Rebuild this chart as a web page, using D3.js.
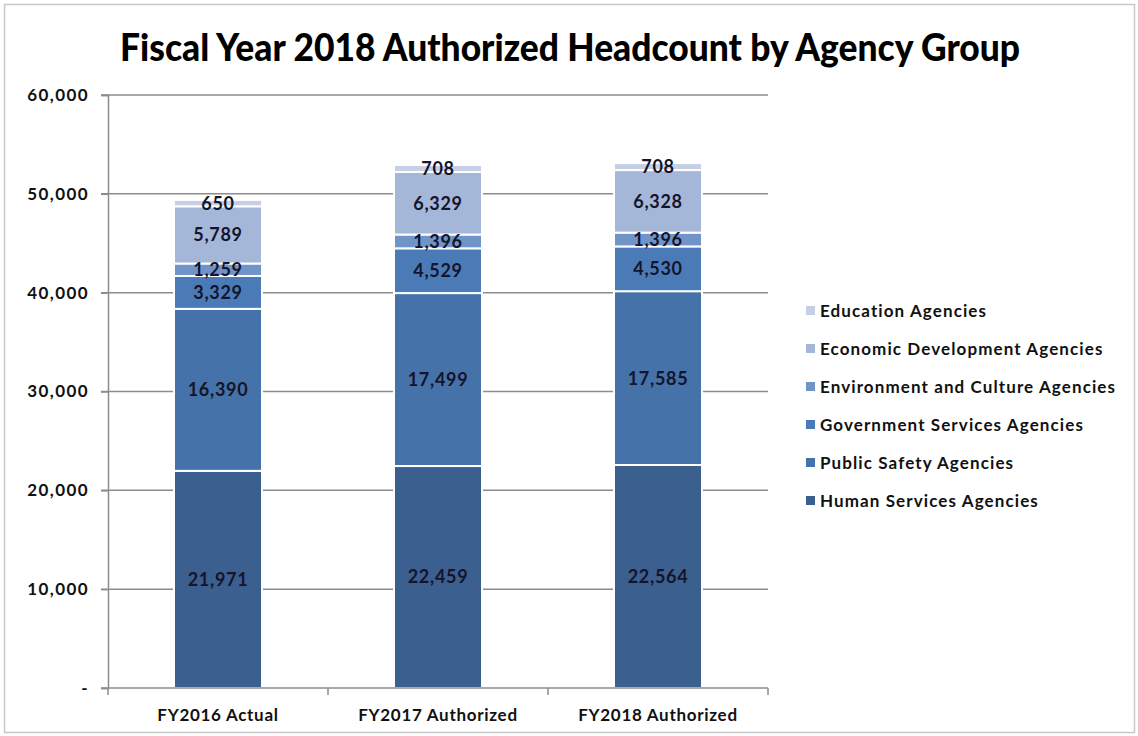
<!DOCTYPE html>
<html>
<head>
<meta charset="utf-8">
<script src="https://cdn.jsdelivr.net/npm/d3@7"></script>
<style>
  html, body { margin: 0; padding: 0; background: #fff; }
  svg { display: block; }
  text { font-family: Lato, "Open Sans", sans-serif; }
</style>
</head>
<body>
<svg id="chart" width="1138" height="736"></svg>
<script>
// Fiscal year columns
const categories = ["FY2016 Actual", "FY2017 Authorized", "FY2018 Authorized"];

// Agency groups, stacked bottom to top
const seriesNames = [
  "Human Services Agencies",
  "Public Safety Agencies",
  "Government Services Agencies",
  "Environment and Culture Agencies",
  "Economic Development Agencies",
  "Education Agencies"
];

// Headcount per agency group, one value per fiscal year column
const humanServices      = [21971, 22459, 22564];
const publicSafety       = [16390, 17499, 17585];
const governmentServices = [3329, 4529, 4530];
const environmentCulture = [1259, 1396, 1396];
const economicDev        = [5789, 6329, 6328];
const education          = [650, 708, 708];

const yTicks = [0, 10000, 20000, 30000, 40000, 50000, 60000];

const colors = ["#3b5f8e", "#4572a9", "#4b7bb7", "#7194c8", "#a5b7d9", "#c6cfe5"];

const seriesValues = [humanServices, publicSafety, governmentServices, environmentCulture, economicDev, education];

const rows = categories.map((c, i) => {
  const r = { category: c };
  seriesNames.forEach((s, k) => { r[s] = seriesValues[k][i]; });
  return r;
});
const stacked = d3.stack().keys(seriesNames)(rows);

const svg = d3.select("#chart");

// outer frame
svg.append("rect").attr("x", 4.5).attr("y", 4.5).attr("width", 1130).attr("height", 728)
  .attr("fill", "none").attr("stroke", "#c8c8c8").attr("stroke-width", 1.5);

// title
svg.append("text").attr("x", 570).attr("y", 61).attr("text-anchor", "middle")
  .attr("font-size", 37).attr("font-weight", 900).attr("fill", "#000")
  .attr("textLength", 900).attr("lengthAdjust", "spacingAndGlyphs")
  .text("Fiscal Year 2018 Authorized Headcount by Agency Group");

const plotLeft = 108, plotRight = 768, plotTop = 95, plotBottom = 688;

const x = d3.scaleBand().domain(categories).range([plotLeft, plotRight]).paddingInner(0.6).paddingOuter(0.3);
const y = d3.scaleLinear().domain([0, 60000]).range([plotBottom, plotTop]);

// horizontal gridlines
svg.append("g").selectAll("line").data(yTicks.filter(t => t > 0)).join("line")
  .attr("x1", plotLeft - 7).attr("x2", plotRight)
  .attr("y1", d => y(d)).attr("y2", d => y(d))
  .attr("stroke", "#8c8c8c").attr("stroke-width", 1.5);

// y axis
const yAxis = d3.axisLeft(y).tickValues(yTicks).tickSize(7)
  .tickFormat(d => d === 0 ? "-" : d3.format(",")(d));
const yg = svg.append("g").attr("transform", `translate(${plotLeft},0)`).call(yAxis);
yg.select(".domain").attr("stroke", "#8c8c8c").attr("stroke-width", 1.5);
yg.selectAll(".tick line").attr("stroke", "#8c8c8c").attr("stroke-width", 1.5);
yg.selectAll(".tick text").attr("x", -19).attr("font-size", 17).attr("font-weight", 700)
  .attr("letter-spacing", 1.4).attr("fill", "#111").attr("font-family", "Lato, sans-serif");

// bars
const barG = svg.append("g");
stacked.forEach((layer, k) => {
  barG.append("g").selectAll("rect").data(layer).join("rect")
    .attr("x", d => x(d.data.category))
    .attr("width", x.bandwidth())
    .attr("y", d => y(d[1]))
    .attr("height", d => y(d[0]) - y(d[1]))
    .attr("fill", colors[k])
    .attr("stroke", "#ffffff").attr("stroke-width", 2);
});

// x axis
const xAxis = d3.axisBottom(x).tickSize(0).tickFormat(d => d);
const xg = svg.append("g").attr("transform", `translate(0,${plotBottom})`).call(xAxis);
xg.select(".domain").remove();
svg.append("line").attr("x1", plotLeft - 7).attr("x2", plotRight).attr("y1", plotBottom).attr("y2", plotBottom)
  .attr("stroke", "#8c8c8c").attr("stroke-width", 1.5);
const boundaries = d3.range(categories.length + 1).map(i => plotLeft + i * (plotRight - plotLeft) / categories.length);
svg.append("g").selectAll("line").data(boundaries).join("line")
  .attr("x1", d => d).attr("x2", d => d).attr("y1", plotBottom).attr("y2", plotBottom + 7)
  .attr("stroke", "#8c8c8c").attr("stroke-width", 1.5);
xg.selectAll(".tick text").attr("y", 21).attr("font-size", 17).attr("font-weight", 700)
  .attr("letter-spacing", 0.7).attr("fill", "#111").attr("font-family", "Lato, sans-serif");

// value labels
const labelG = svg.append("g");
stacked.forEach((layer, k) => {
  labelG.append("g").selectAll("text").data(layer).join("text")
    .attr("x", d => x(d.data.category) + x.bandwidth() / 2)
    .attr("y", d => (y(d[0]) + y(d[1])) / 2)
    .attr("dy", "0.36em")
    .attr("text-anchor", "middle")
    .attr("font-size", 18).attr("font-weight", 700).attr("letter-spacing", 0.7).attr("fill", "#14142a")
    .text(d => d3.format(",")(d[1] - d[0]));
});

// legend (top entry is the topmost stack layer)
const legendNames = seriesNames.slice().reverse();
const legendColors = colors.slice().reverse();
const lg = svg.append("g").attr("transform", "translate(806,311)");
legendNames.forEach((name, i) => {
  const row = lg.append("g").attr("transform", `translate(0,${i * 38})`);
  row.append("rect").attr("x", 0).attr("y", -5).attr("width", 9).attr("height", 9).attr("fill", legendColors[i]);
  row.append("text").attr("x", 14).attr("y", 0).attr("dy", "0.36em")
    .attr("font-size", 17).attr("font-weight", 700).attr("letter-spacing", 1.1)
    .attr("fill", "#111").text(name);
});
</script>
</body>
</html>
